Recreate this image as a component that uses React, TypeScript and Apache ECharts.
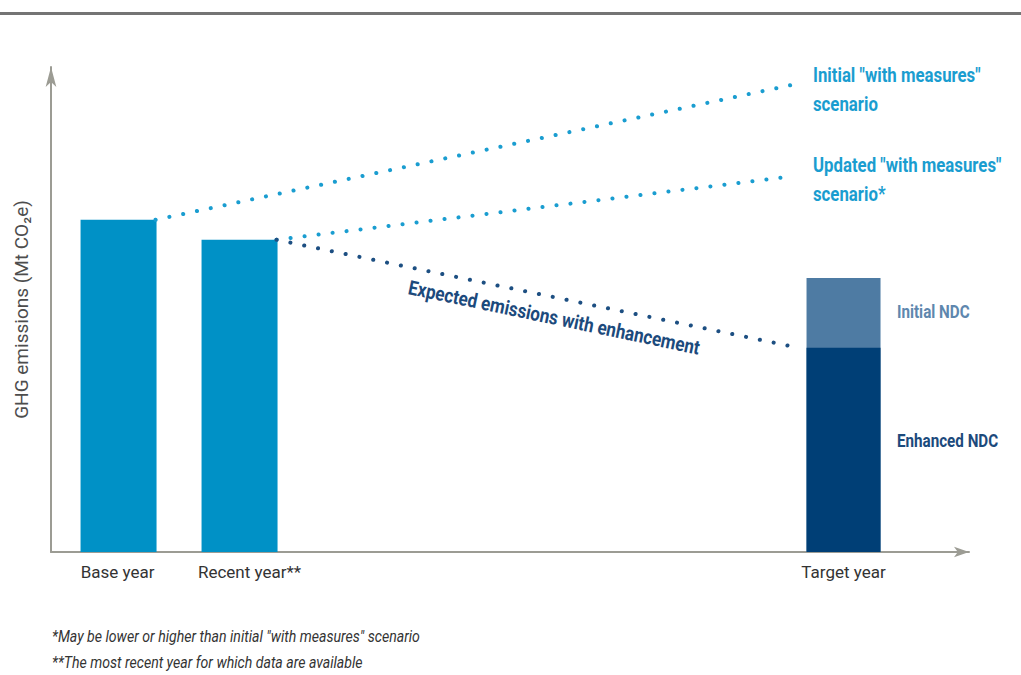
import React, { useEffect, useRef } from "react";
import * as echarts from "echarts";

// ---- data ----
const categoryNames = ["Base year", "Recent year**", "Target year"];
const categoryPositions = [0, 1, 6];
const historicEmissions: [number, number][] = [
  [0, 100],
  [1, 94],
];
const initialNDC: [number, number][] = [[6, 82.5]];
const enhancedNDC: [number, number][] = [[6, 61.5]];
const initialWithMeasures: [number, number][] = [
  [0.314, 100],
  [5.56, 140.5],
];
const updatedWithMeasures: [number, number][] = [
  [1.314, 94],
  [5.56, 113],
];
const expectedWithEnhancement: [number, number][] = [
  [1.314, 94],
  [5.56, 62],
];
const seriesLabels = {
  initialWM: 'Initial "with measures"\nscenario',
  updatedWM: 'Updated "with measures"\nscenario*',
  expected: "Expected emissions with enhancement",
  initialNDC: "Initial NDC",
  enhancedNDC: "Enhanced NDC",
};
const footnotes = [
  '*May be lower or higher than initial "with measures" scenario',
  "**The most recent year for which data are available",
];

const FONT = "Roboto, 'Noto Sans', sans-serif";
const BLUE = "#0091c6";
const DOT_BLUE = "#1a9dd0";
const NAVY = "#003f76";
const STEEL = "#4e7ba3";
const AXIS = "#9c9c94";

export default function App() {
  const ref = useRef<HTMLDivElement>(null);
  useEffect(() => {
    if (!ref.current) return;
    const chart = echarts.init(ref.current, undefined, { renderer: "svg" });
    const dotted = (color: string) => ({
      color,
      width: 4,
      type: [0.1, 14] as any,
      cap: "round" as const,
    });
    const condText = (
      text: string,
      x: number,
      y: number,
      opts: { size: number; color: string; bold?: boolean; italic?: boolean; scaleX?: number; rotation?: number; align?: string; lineHeight?: number }
    ) => ({
      type: "text",
      x,
      y,
      scaleX: opts.scaleX ?? 0.8,
      rotation: opts.rotation ?? 0,
      style: {
        text,
        fontFamily: FONT,
        fontWeight: opts.bold ? "bold" : "normal",
        fontStyle: opts.italic ? "italic" : "normal",
        fontSize: opts.size,
        lineHeight: opts.lineHeight,
        fill: opts.color,
        align: opts.align ?? "left",
        verticalAlign: "middle",
      },
    });
    chart.setOption({
      animation: false,
      backgroundColor: "#ffffff",
      grid: { left: 51, right: 52, top: 67, bottom: 123, containLabel: false },
      xAxis: {
        type: "value",
        min: -0.55,
        max: 7.037,
        splitLine: { show: false },
        axisTick: { show: false },
        axisLine: {
          show: true,
          onZero: false,
          symbol: ["none", "arrow"],
          symbolSize: [8, 15],
          lineStyle: { color: AXIS, width: 2 },
        },
        axisLabel: {
          show: true,
          customValues: categoryPositions,
          margin: 11,
          fontFamily: FONT,
          fontSize: 17,
          color: "#333333",
          formatter: (v: number) => {
            const i = categoryPositions.indexOf(v);
            if (i < 0) return "";
            return i === 1 ? "{p|}" + categoryNames[i] : categoryNames[i];
          },
          rich: { p: { width: 22 } },
        },
      },
      yAxis: {
        type: "value",
        min: 0,
        max: 146,
        splitLine: { show: false },
        axisTick: { show: false },
        axisLabel: { show: false },
        axisLine: {
          show: true,
          onZero: false,
          symbol: ["none", "arrow"],
          symbolSize: [8, 20],
          lineStyle: { color: AXIS, width: 2 },
        },
        name: "GHG emissions (Mt CO₂e)",
        nameLocation: "middle",
        nameGap: 20,
        nameTextStyle: { fontFamily: FONT, fontSize: 19, color: "#4d4d4d" },
      },
      series: [
        {
          type: "bar",
          data: historicEmissions,
          barWidth: 76,
          barGap: "-100%",
          itemStyle: { color: BLUE },
        },
        {
          type: "bar",
          data: initialNDC,
          barWidth: 74,
          barGap: "-100%",
          itemStyle: { color: STEEL },
        },
        {
          type: "bar",
          data: enhancedNDC,
          barWidth: 74,
          barGap: "-100%",
          itemStyle: { color: NAVY },
        },
        {
          type: "line",
          data: initialWithMeasures,
          symbol: "none",
          lineStyle: dotted(DOT_BLUE),
        },
        {
          type: "line",
          data: updatedWithMeasures,
          symbol: "none",
          lineStyle: dotted(DOT_BLUE),
        },
        {
          type: "line",
          data: expectedWithEnhancement,
          symbol: "none",
          lineStyle: dotted("#1d4f82"),
        },
      ],
      graphic: [
        {
          type: "rect",
          left: 0,
          top: 12,
          shape: { width: 1021, height: 3 },
          style: { fill: "#747474" },
        },
        condText(seriesLabels.initialWM, 813, 89, { size: 21, color: DOT_BLUE, bold: true, lineHeight: 29 }),
        condText(seriesLabels.updatedWM, 813, 179, { size: 21, color: DOT_BLUE, bold: true, lineHeight: 29 }),
        condText(seriesLabels.expected, 554, 318, { size: 20, color: "#1c4a7c", bold: true, rotation: -0.206, align: "center", scaleX: 0.85 }),
        condText(seriesLabels.initialNDC, 897, 311, { size: 19, color: "#5e87ae", bold: true }),
        condText(seriesLabels.enhancedNDC, 897, 440, { size: 19, color: "#1c4a7c", bold: true }),
        condText(footnotes[0], 52, 637, { size: 17, color: "#333333", italic: true, scaleX: 0.83 }),
        condText(footnotes[1], 52, 663, { size: 17, color: "#333333", italic: true, scaleX: 0.83 }),
      ],
    });
    return () => chart.dispose();
  }, []);
  return (
    <div
      ref={ref}
      style={{ position: "fixed", left: 0, top: 0, width: 1021, height: 675, background: "#fff" }}
    />
  );
}
